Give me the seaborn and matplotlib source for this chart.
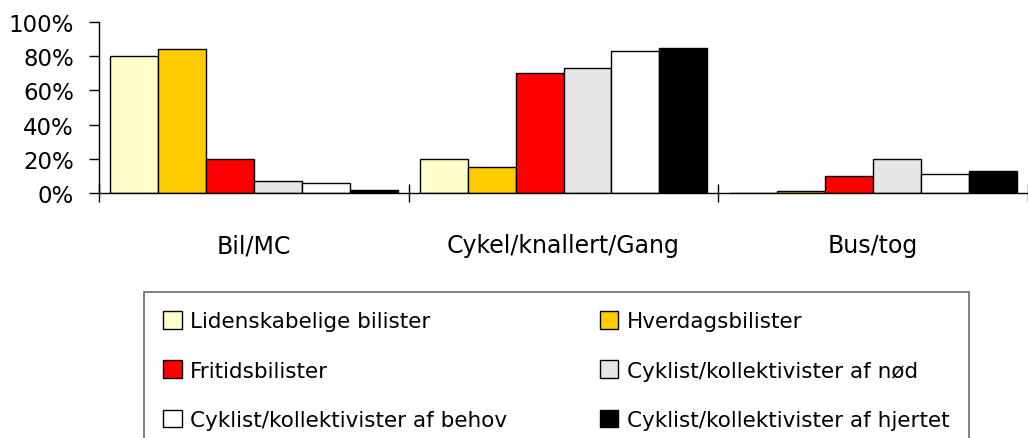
import matplotlib.pyplot as plt
import seaborn as sns
import pandas as pd
from matplotlib.ticker import PercentFormatter

# data
categories = ['Bil/MC', 'Cykel/knallert/Gang', 'Bus/tog']
groups = ['Lidenskabelige bilister', 'Hverdagsbilister', 'Fritidsbilister',
          'Cyklist/kollektivister af nød', 'Cyklist/kollektivister af behov',
          'Cyklist/kollektivister af hjertet']
lidenskabelige = [0.80, 0.20, 0.00]
hverdags = [0.84, 0.15, 0.01]
fritids = [0.20, 0.70, 0.10]
noed = [0.07, 0.73, 0.20]
behov = [0.06, 0.83, 0.11]
hjertet = [0.02, 0.85, 0.13]

colors = ['#ffffcc', '#ffcc00', '#ff0000', '#e6e6e6', '#ffffff', '#000000']

series = [lidenskabelige, hverdags, fritids, noed, behov, hjertet]
rows = []
for g, vals in zip(groups, series):
    for c, v in zip(categories, vals):
        rows.append({'Kategori': c, 'Gruppe': g, 'Andel': v})
df = pd.DataFrame(rows)

sns.set_style('white')
plt.rcParams['font.family'] = ['DejaVu Sans']
plt.rcParams['text.color'] = 'black'
plt.rcParams['xtick.labelcolor'] = 'black'
plt.rcParams['ytick.labelcolor'] = 'black'

fig = plt.figure(figsize=(10.28, 4.39), dpi=100)
ax = fig.add_axes([99 / 1028, 1 - 194 / 439, 1 - 99 / 1028, (194 - 23) / 439])

sns.barplot(data=df, x='Kategori', y='Andel', hue='Gruppe', order=categories,
            hue_order=groups, palette=dict(zip(groups, colors)), width=0.93,
            edgecolor='black', linewidth=1, saturation=1, errorbar=None, ax=ax)

ax.set_ylim(0, 1.0)
ax.set_xlim(-0.5, 2.5)
ax.yaxis.set_major_formatter(PercentFormatter(1.0, decimals=0))
ax.set_yticks([0, 0.2, 0.4, 0.6, 0.8, 1.0])
ax.tick_params(axis='y', direction='out', length=7, width=1, color='black',
               labelsize=16.5, pad=11, left=True)

# category boundaries as major ticks, names as minor ticks
ax.set_xticks([-0.5, 0.5, 1.5, 2.5])
ax.set_xticklabels([])
ax.set_xticks([0, 1, 2], minor=True)
ax.set_xticklabels(categories, minor=True)
ax.tick_params(axis='x', which='major', direction='inout', length=13, width=1,
               color='black', bottom=True)
ax.tick_params(axis='x', which='minor', length=0, pad=29, labelsize=17)

ax.set_xlabel('')
ax.set_ylabel('')
for side in ['top', 'right']:
    ax.spines[side].set_visible(False)
for side in ['left', 'bottom']:
    ax.spines[side].set_color('black')
    ax.spines[side].set_linewidth(1)

handles, labels = ax.get_legend_handles_labels()
ax.get_legend().remove()
order = [0, 2, 4, 1, 3, 5]
leg = fig.legend([handles[i] for i in order], [labels[i] for i in order],
                 ncol=2, loc='upper left',
                 bbox_to_anchor=(144 / 1028, 1 - 293 / 439),
                 frameon=True, fancybox=False, edgecolor='#444444',
                 fontsize=15.5, handlelength=0.85, handleheight=0.85,
                 handletextpad=0.4, labelspacing=1.35, borderpad=0.9,
                 columnspacing=4.3, borderaxespad=0)
leg.get_frame().set_linewidth(1.2)

fig.savefig('out.png', dpi=100)
